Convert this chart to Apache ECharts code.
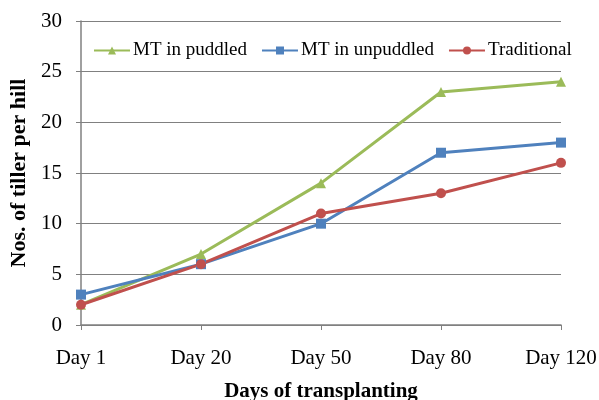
<!DOCTYPE html>
<html>
<head>
<meta charset="utf-8">
<script src="https://cdn.jsdelivr.net/npm/echarts@6/dist/echarts.min.js"></script>
<style>
  html, body { margin: 0; padding: 0; background: #fff; }
  #chart { width: 599px; height: 400px; }
</style>
</head>
<body>
<div id="chart"></div>
<script>
// Tiller counts per hill over days after transplanting
const days = ['Day 1', 'Day 20', 'Day 50', 'Day 80', 'Day 120'];
const mtPuddled = [2, 7, 14, 23, 24];
const mtUnpuddled = [3, 6, 10, 17, 18];
const traditional = [2, 6, 11, 13, 16];

const FONT = '"Liberation Serif", "Times New Roman", serif';

const chart = echarts.init(document.getElementById('chart'));

function lineSeries(name, data, color, symbol, size) {
  return {
    name: name,
    type: 'line',
    data: data,
    symbol: symbol,
    symbolSize: size,
    lineStyle: { color: color, width: 3 },
    itemStyle: { color: color },
    animation: false
  };
}

chart.setOption({
  animation: false,
  grid: { left: 81, right: 38, top: 21, bottom: 75, containLabel: false, outerBoundsMode: 'none' },
  legend: {
    top: 36,
    left: 88,
    itemGap: 14,
    itemWidth: 36,
    itemHeight: 10,
    textStyle: { fontFamily: FONT, fontSize: 19, color: '#000', padding: [0, 0, 0, -2] },
    data: ['MT in puddled', 'MT in unpuddled', 'Traditional']
  },
  xAxis: {
    type: 'category',
    data: days,
    boundaryGap: false,
    name: 'Days of transplanting',
    nameLocation: 'middle',
    nameGap: 56,
    nameTextStyle: { fontFamily: FONT, fontSize: 21, fontWeight: 'bold', color: '#000' },
    axisLine: { lineStyle: { color: '#808080', width: 1.5 } },
    axisTick: { show: true, alignWithLabel: true, length: 5, lineStyle: { color: '#808080' } },
    axisLabel: { fontFamily: FONT, fontSize: 21, color: '#000', margin: 23 }
  },
  yAxis: {
    type: 'value',
    min: 0,
    max: 30,
    interval: 5,
    name: 'Nos. of tiller per hill',
    nameLocation: 'middle',
    nameGap: 45,
    nameTextStyle: { fontFamily: FONT, fontSize: 22, fontWeight: 'bold', color: '#000' },
    axisLine: { show: true, lineStyle: { color: '#808080', width: 1.5 } },
    axisTick: { show: true, length: 5, lineStyle: { color: '#808080' } },
    axisLabel: { fontFamily: FONT, fontSize: 21, color: '#000', margin: 19 },
    splitLine: { lineStyle: { color: '#808080', width: 1.2 } }
  },
  series: [
    lineSeries('MT in puddled', mtPuddled, '#9BBB59', 'triangle', 10),
    lineSeries('MT in unpuddled', mtUnpuddled, '#4F81BD', 'rect', 10),
    lineSeries('Traditional', traditional, '#C0504D', 'circle', 10)
  ]
});
</script>
</body>
</html>
